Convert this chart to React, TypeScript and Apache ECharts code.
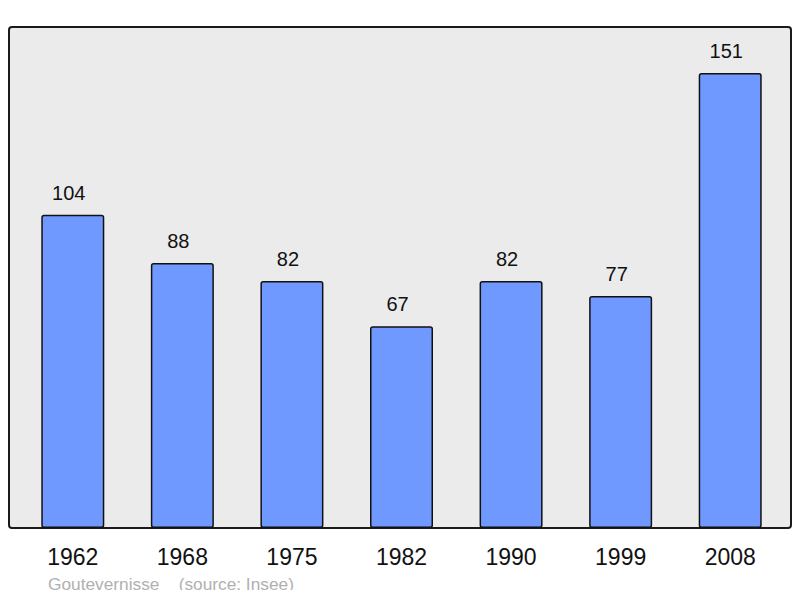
import React, { useEffect, useRef } from 'react';
import * as echarts from 'echarts';

// years and population
const years = ['1962', '1968', '1975', '1982', '1990', '1999', '2008'];
const population = [104, 88, 82, 67, 82, 77, 151];
const footerText = 'Goutevernisse    (source: Insee)';

const App: React.FC = () => {
  const chartRef = useRef<HTMLDivElement>(null);

  useEffect(() => {
    if (!chartRef.current) return;
    const chart = echarts.init(chartRef.current, undefined, { renderer: 'svg' });

    const option: echarts.EChartsOption = {
      animation: false,
      textStyle: { fontFamily: 'Liberation Sans, Arial, sans-serif' },
      grid: { left: 18, right: 15, top: 27, bottom: 70 },
      graphic: [
        {
          type: 'rect',
          z: -10,
          silent: true,
          shape: { x: 9, y: 27, width: 782, height: 501, r: 3 },
          style: { fill: '#ebebeb', stroke: '#1a1a1a', lineWidth: 2 }
        },
        {
          type: 'text',
          left: 48,
          top: 575,
          style: {
            text: footerText,
            fill: '#b0b0b0',
            fontSize: 17.3,
            fontFamily: 'Liberation Sans, Arial, sans-serif'
          }
        }
      ],
      xAxis: {
        type: 'category',
        data: years,
        axisLine: { show: false },
        axisTick: { show: false },
        axisLabel: { color: '#111', fontSize: 23, margin: 17 }
      },
      yAxis: {
        type: 'value',
        min: 0,
        max: 166.3,
        show: false,
        splitLine: { show: false }
      },
      series: [
        {
          type: 'bar',
          data: population,
          barWidth: 63,
          itemStyle: {
            color: '#7099ff',
            borderColor: '#111',
            borderWidth: 1.5,
            borderRadius: 2
          },
          label: {
            show: true,
            position: 'top',
            distance: 12,
            offset: [-4, 0],
            color: '#111',
            fontSize: 20
          }
        }
      ]
    };

    chart.setOption(option);
    return () => chart.dispose();
  }, []);

  return <div ref={chartRef} style={{ width: 800, height: 598, margin: -8 }} />;
};

export default App;
